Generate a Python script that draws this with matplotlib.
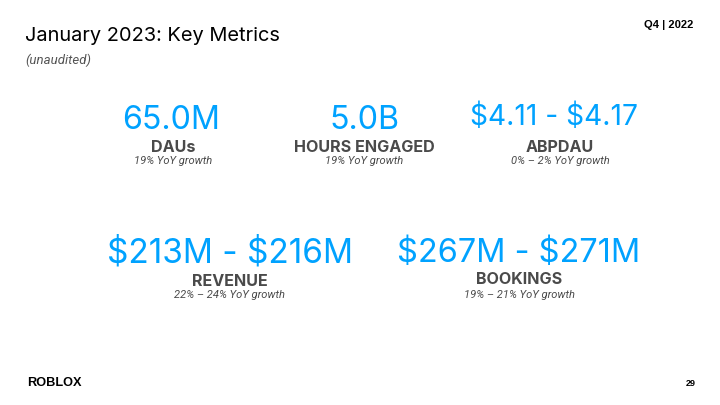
import matplotlib.pyplot as plt

# slide content
values = ['65.0M', '5.0B', '$4.11 - $4.17', '$213M - $216M', '$267M - $271M']
metrics = ['DAUs', 'HOURS ENGAGED', 'ABPDAU', 'REVENUE', 'BOOKINGS']
growth = ['19% YoY growth', '19% YoY growth', '0% \u2013 2% YoY growth',
          '22% \u2013 24% YoY growth', '19% \u2013 21% YoY growth']

# pixel layout: x centers and baselines
x_val = [171, 364, 554.5, 230, 518.5]
x_lab = [173, 364, 560, 230, 519.5]
val_size = [23.2, 23.2, 20.3, 24, 23.4]
y_val = [129, 129, 125, 262, 262]
y_met = [152, 152, 152, 286, 284]
y_gro = [164.5, 164.5, 164.5, 298.5, 297.5]

W, H = 720, 405
BLUE = '#00a2ff'
GRAY = '#4a4a4a'

fig = plt.figure(figsize=(7.2, 4.05), dpi=100)
fig.patch.set_facecolor('white')

def px(x, y):
    return x / W, 1 - y / H

fig.text(*px(25, 41), 'January 2023: Key Metrics', fontsize=14.4, family='Inter',
         color='black', ha='left', va='baseline')
fig.text(*px(25, 64.5), '(unaudited)', fontsize=9.5, family='Roboto', style='italic',
         color='#555555', ha='left', va='baseline')
fig.text(*px(693, 28), 'Q4 | 2022', fontsize=8, family='Liberation Sans', weight='bold',
         color='black', ha='right', va='baseline')

for i in range(len(values)):
    fig.text(*px(x_val[i], y_val[i]), values[i], fontsize=val_size[i], family='Inter',
             color=BLUE, ha='center', va='baseline', parse_math=False)
    fig.text(*px(x_lab[i], y_met[i]), metrics[i], fontsize=11.6, family='Inter', weight='bold',
             color=GRAY, ha='center', va='baseline')
    fig.text(*px(x_lab[i], y_gro[i]), growth[i], fontsize=8, family='Roboto', style='italic',
             color='#4a4a4a', ha='center', va='baseline', parse_math=False)

fig.text(*px(27, 386), 'ROBLOX', fontsize=9.2, family='Liberation Sans', weight='heavy',
         color='black', ha='left', va='baseline')
fig.text(*px(696, 385.5), '29', fontsize=6.5, family='Liberation Sans', weight='bold',
         color='black', ha='right', va='baseline')

fig.savefig('out.png', dpi=100, facecolor='white')
